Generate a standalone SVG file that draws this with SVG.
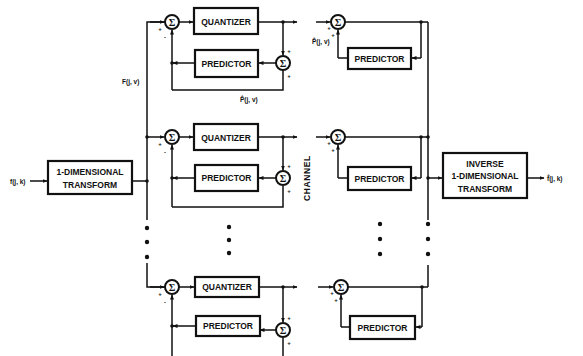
<svg xmlns="http://www.w3.org/2000/svg" width="583" height="356" viewBox="0 0 583 356">
<defs>
<marker id="ah" viewBox="0 0 10 10" refX="9" refY="5" markerWidth="5" markerHeight="5" orient="auto-start-reverse" markerUnits="userSpaceOnUse">
<path d="M0,1 L10,5 L0,9 z" fill="#111"/>
</marker>
<style>
.box{fill:#fff;stroke:#111;stroke-width:2.2}
.sum{fill:#fff;stroke:#111;stroke-width:2}
.ln{fill:none;stroke:#111;stroke-width:1.5}
.ar{fill:none;stroke:#111;stroke-width:1.5;marker-end:url(#ah)}
.t{font-family:"Liberation Sans",Arial,sans-serif;font-weight:bold;font-size:8.5px;fill:#111;text-anchor:middle}
.sg{font-family:"Liberation Serif",serif;font-weight:bold;font-size:10px;fill:#111;text-anchor:middle}
.lb{font-family:"Liberation Sans",Arial,sans-serif;font-weight:bold;font-size:6.5px;fill:#111}
.pm{font-family:"Liberation Sans",Arial,sans-serif;font-weight:bold;font-size:6px;fill:#111;text-anchor:middle}
.dot{fill:#111}
</style>
</defs>
<rect width="583" height="356" fill="#fff"/>

<g id="connectors">
<path class="ar" d="M30,181 H47"/>
<path class="ln" d="M132,181 H147"/>
<path class="ln" d="M165,22 H147 V220"/>
<path class="ln" d="M147,263 V287 H165"/>
<path class="ar" d="M150,22 H164"/>
<path class="ar" d="M150,137 H164"/>
<path class="ar" d="M150,287 H164"/>
<path class="ln" d="M147,137 H150"/>
<path class="ar" d="M179,22 H193"/>
<path class="ln" d="M258,22 H283"/>
<path class="ar" d="M283,22 H297"/>
<path class="ar" d="M283,22 V55"/>
<path class="ar" d="M290,63 H259"/>
<path class="ar" d="M194,63 H173"/>
<path class="ar" d="M172,90 V30"/>
<path class="ln" d="M172,90 H283 V70"/>
<path class="ar" d="M179,137 H193"/>
<path class="ln" d="M258,137 H283"/>
<path class="ar" d="M283,137 H297"/>
<path class="ar" d="M283,137 V170"/>
<path class="ar" d="M290,178 H259"/>
<path class="ar" d="M194,178 H173"/>
<path class="ar" d="M172,207 V145"/>
<path class="ln" d="M172,207 H283 V186"/>
<path class="ar" d="M179,287 H194"/>
<path class="ln" d="M259,287 H283"/>
<path class="ar" d="M283,287 H297"/>
<path class="ar" d="M283,287 V322"/>
<path class="ar" d="M290,330 H260"/>
<path class="ar" d="M195,326 H173"/>
<path class="ar" d="M172,356 V295"/>
<path class="ln" d="M283,338 V356"/>
<path class="ar" d="M316,22 H330"/>
<path class="ln" d="M345,22 H428"/>
<path class="ln" d="M421,22 V58"/>
<path class="ar" d="M421,58 H412"/>
<path class="ln" d="M348,58 H338"/>
<path class="ar" d="M338,58 V30"/>
<path class="ar" d="M316,137 H330"/>
<path class="ln" d="M345,137 H428"/>
<path class="ln" d="M421,137 V178"/>
<path class="ar" d="M421,178 H412"/>
<path class="ln" d="M348,178 H338"/>
<path class="ar" d="M338,178 V145"/>
<path class="ar" d="M318,287 H333"/>
<path class="ln" d="M348,287 H428"/>
<path class="ln" d="M422,287 V327"/>
<path class="ar" d="M422,327 H416"/>
<path class="ln" d="M350,327 H341"/>
<path class="ar" d="M341,327 V295"/>
<path class="ln" d="M428,22 V220"/>
<path class="ln" d="M428,265 V287"/>
<path class="ar" d="M428,178 H442"/>
<path class="ar" d="M527,178 H544"/>
<circle class="dot" cx="147" cy="137" r="1.8"/>
<circle class="dot" cx="147" cy="181" r="1.8"/>
<circle class="dot" cx="283" cy="22" r="1.8"/>
<circle class="dot" cx="283" cy="137" r="1.8"/>
<circle class="dot" cx="283" cy="287" r="1.8"/>
<circle class="dot" cx="172" cy="63" r="1.8"/>
<circle class="dot" cx="172" cy="178" r="1.8"/>
<circle class="dot" cx="172" cy="326" r="1.8"/>
<circle class="dot" cx="421" cy="22" r="1.8"/>
<circle class="dot" cx="421" cy="137" r="1.8"/>
<circle class="dot" cx="428" cy="137" r="1.8"/>
<circle class="dot" cx="428" cy="178" r="1.8"/>
<circle class="dot" cx="422" cy="287" r="1.8"/>
<circle class="dot" cx="147" cy="228" r="2.2"/>
<circle class="dot" cx="147" cy="242" r="2.2"/>
<circle class="dot" cx="147" cy="257" r="2.2"/>
<circle class="dot" cx="229" cy="227" r="2.2"/>
<circle class="dot" cx="229" cy="240" r="2.2"/>
<circle class="dot" cx="229" cy="253" r="2.2"/>
<circle class="dot" cx="380" cy="224" r="2.2"/>
<circle class="dot" cx="380" cy="239" r="2.2"/>
<circle class="dot" cx="380" cy="254" r="2.2"/>
<circle class="dot" cx="428" cy="224" r="2.2"/>
<circle class="dot" cx="428" cy="239" r="2.2"/>
<circle class="dot" cx="428" cy="254" r="2.2"/>
</g>

<g id="transform">
<rect class="box" x="48" y="161" width="84" height="33"/>
<text class="t" x="90" y="175">1-DIMENSIONAL</text>
<text class="t" x="90" y="188">TRANSFORM</text>
</g>
<g id="inverse-transform">
<rect class="box" x="443" y="153" width="84" height="45"/>
<text class="t" x="485" y="167">INVERSE</text>
<text class="t" x="485" y="179">1-DIMENSIONAL</text>
<text class="t" x="485" y="192">TRANSFORM</text>
</g>

<g id="enc-sum-1"><circle class="sum" cx="172" cy="22" r="7"/><text class="sg" x="172" y="25.5">Σ</text></g>
<g id="enc-quant-1"><rect class="box" x="194" y="8" width="64" height="26"/><text class="t" x="226" y="24.5">QUANTIZER</text></g>
<g id="enc-pred-1"><rect class="box" x="195" y="50" width="63" height="27"/><text class="t" x="226.5" y="66.5">PREDICTOR</text></g>
<g id="enc-fbsum-1"><circle class="sum" cx="283" cy="63" r="7"/><text class="sg" x="283" y="66.5">Σ</text></g>
<g id="enc-sum-2"><circle class="sum" cx="172" cy="137" r="7"/><text class="sg" x="172" y="140.5">Σ</text></g>
<g id="enc-quant-2"><rect class="box" x="194" y="124" width="64" height="26"/><text class="t" x="226" y="140.5">QUANTIZER</text></g>
<g id="enc-pred-2"><rect class="box" x="195" y="165" width="63" height="26"/><text class="t" x="226.5" y="181">PREDICTOR</text></g>
<g id="enc-fbsum-2"><circle class="sum" cx="283" cy="178" r="7"/><text class="sg" x="283" y="181.5">Σ</text></g>
<g id="enc-sum-3"><circle class="sum" cx="172" cy="287" r="7"/><text class="sg" x="172" y="290.5">Σ</text></g>
<g id="enc-quant-3"><rect class="box" x="195" y="277" width="64" height="20"/><text class="t" x="227" y="290">QUANTIZER</text></g>
<g id="enc-pred-3"><rect class="box" x="196" y="316" width="64" height="20"/><text class="t" x="228" y="329">PREDICTOR</text></g>
<g id="enc-fbsum-3"><circle class="sum" cx="283" cy="330" r="7"/><text class="sg" x="283" y="333.5">Σ</text></g>

<g id="dec-sum-1"><circle class="sum" cx="338" cy="22" r="7"/><text class="sg" x="338" y="25.5">Σ</text></g>
<g id="dec-pred-1"><rect class="box" x="348" y="48" width="63" height="21"/><text class="t" x="379.5" y="61.5">PREDICTOR</text></g>
<g id="dec-sum-2"><circle class="sum" cx="338" cy="137" r="7"/><text class="sg" x="338" y="140.5">Σ</text></g>
<g id="dec-pred-2"><rect class="box" x="348" y="167" width="63" height="23"/><text class="t" x="379.5" y="181.5">PREDICTOR</text></g>
<g id="dec-sum-3"><circle class="sum" cx="341" cy="287" r="7"/><text class="sg" x="341" y="290.5">Σ</text></g>
<g id="dec-pred-3"><rect class="box" x="350" y="316" width="65" height="23"/><text class="t" x="382.5" y="330.5">PREDICTOR</text></g>

<g id="labels">
<text class="lb" x="10" y="184">f(j, k)</text>
<text class="lb" x="547" y="181">f̂(j, k)</text>
<text class="lb" x="122" y="84">F(j, v)</text>
<text class="lb" x="240" y="102">P̂(j, v)</text>
<text class="lb" x="312" y="44">P̂(j, v)</text>
<text class="t" transform="translate(310,178) rotate(-90)" style="letter-spacing:0.6px">CHANNEL</text>
<text class="pm" x="160" y="31">+</text><text class="pm" x="165" y="39">-</text>
<text class="pm" x="160" y="146">+</text><text class="pm" x="165" y="154">-</text>
<text class="pm" x="160" y="296">+</text><text class="pm" x="165" y="304">-</text>
<text class="pm" x="289" y="53">+</text><text class="pm" x="289" y="78">+</text>
<text class="pm" x="289" y="168">+</text><text class="pm" x="289" y="193">+</text>
<text class="pm" x="289" y="320">+</text><text class="pm" x="289" y="345">+</text>
<text class="pm" x="329" y="30">+</text><text class="pm" x="333" y="37">+</text>
<text class="pm" x="329" y="145">+</text><text class="pm" x="333" y="152">+</text>
<text class="pm" x="332" y="295">+</text><text class="pm" x="336" y="302">+</text>
</g>
</svg>
